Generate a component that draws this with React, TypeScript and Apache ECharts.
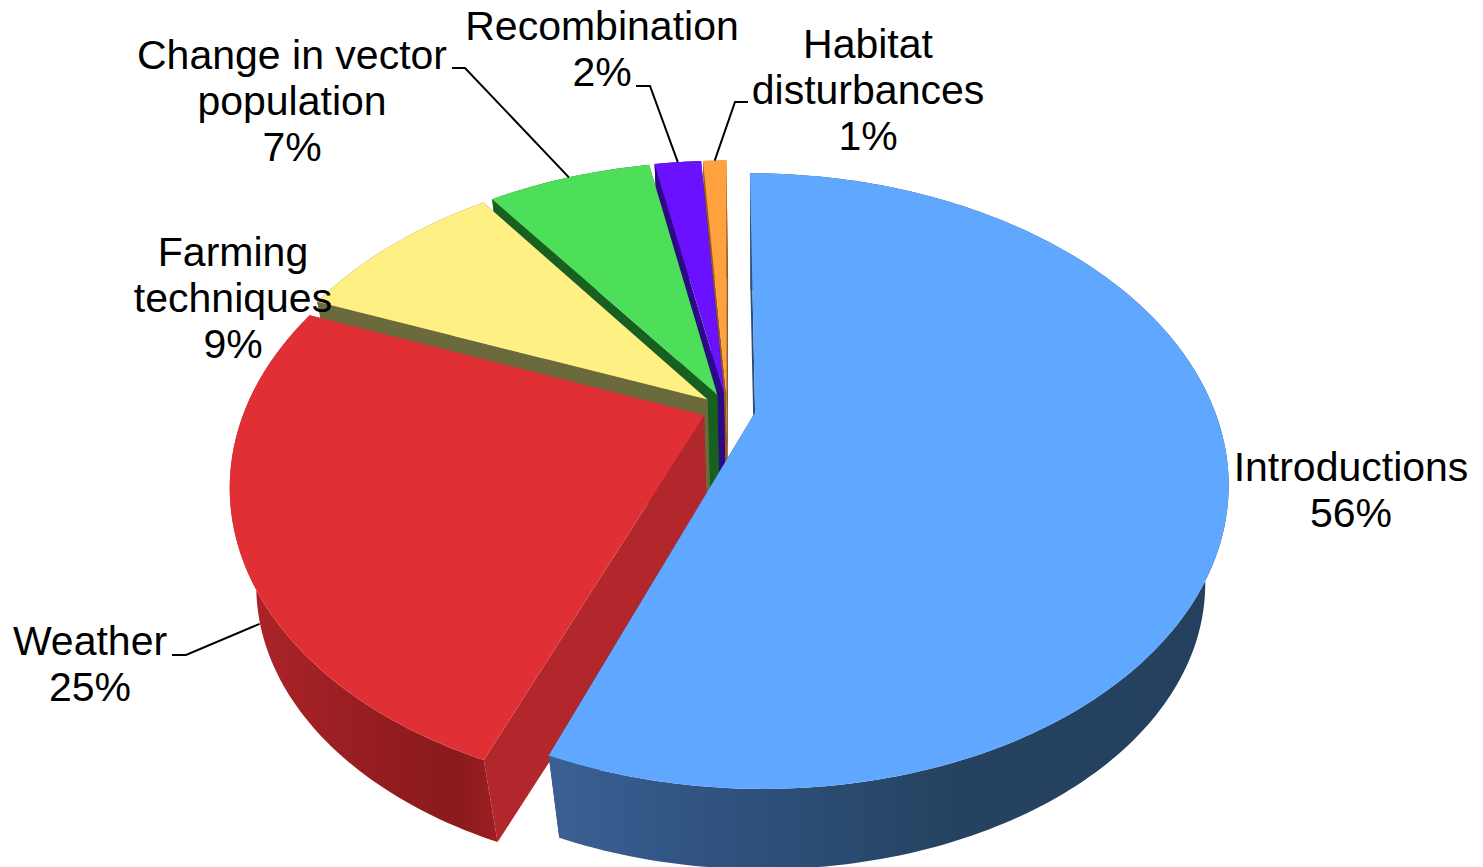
import React, { useEffect, useRef } from "react";
import * as echarts from "echarts";

// Shares of each driver, clockwise from twelve o'clock.
const categories = ["Introductions", "Weather", "Farming\ntechniques", "Change in vector\npopulation", "Recombination", "Habitat\ndisturbances"];
const shares = [56, 25, 9, 7, 2, 1];

const topColors = ["#60A8FF", "#E03036", "#FFF083", "#4EDF5A", "#6A12FF", "#FFA23E"];
const cutColors = ["#2A4B75", "#B2272B", "#6B6A3C", "#17601F", "#2C0A85", "#9A5A1E"];
const wallStops: [number, string][][] = [
  [[0, "#3B6093"], [0.25, "#2F5280"], [0.6, "#254360"], [1, "#24405E"]],
  [[0, "#B0252A"], [0.6, "#921C1F"], [0.85, "#8A1A1C"], [1, "#9C1F22"]],
  [[0, "#6B6A3C"], [1, "#6B6A3C"]],
  [[0, "#17601F"], [1, "#17601F"]],
  [[0, "#2C0A85"], [1, "#2C0A85"]],
  [[0, "#9A5A1E"], [1, "#9A5A1E"]],
];

// Label anchors: centre x and first line's centre y.
const labelX = [1351, 90, 233, 292, 602, 868];
const labelY = [467, 641, 252, 55, 26, 44];
// Elbow of each leader line; null where the label sits against its slice.
const elbows: (number[][] | null)[] = [
  null,
  [[172, 655], [186, 655]],
  null,
  [[452, 68], [465, 68]],
  [[636, 86], [650, 86]],
  [[748, 102], [735, 102]],
];
// Share of the wall's height at which a leader meets the slice.
const leaderDrop = [0, 0.85, 0, 0, 0, 0];
// How far each slice is pulled out of the disc, as a multiple of EXPLODE.
const explodeScale = [1.15, 1, 1, 1, 1, 1];

// Perspective of the pie's plane.
const CX = 727, CY = 409, RX = 459, RY = 291, TILT = 0.2225, EXPLODE = 0.054;
// Lower face of the disc: the upper face scaled toward a vanishing point.
const VX = 760, VY = 2150, DEPTH_X = 0.95, DEPTH_Y = 0.941;

const total = shares.reduce((a, b) => a + b, 0);
const startAngles = shares.map((_, i) => (shares.slice(0, i).reduce((a, b) => a + b, 0) / total) * 2 * Math.PI);
const endAngles = shares.map((s, i) => startAngles[i] + (s / total) * 2 * Math.PI);

const offset = (i: number) => {
  const mid = (startAngles[i] + endAngles[i]) / 2;
  const e = EXPLODE * explodeScale[i];
  return [e * Math.sin(mid), -e * Math.cos(mid)];
};
const project = (u: number, v: number) => {
  const w = 1 - TILT * v;
  return [CX + (RX * u) / w, CY + (RY * v) / w];
};
const lower = (p: number[]) => [VX + (p[0] - VX) * DEPTH_X, VY + (p[1] - VY) * DEPTH_Y];
const apex = (i: number) => {
  const [a, b] = offset(i);
  return project(a, b);
};
const rim = (i: number, angle: number) => {
  const [a, b] = offset(i);
  return project(a + Math.sin(angle), b - Math.cos(angle));
};
const rimArc = (i: number) => {
  const n = Math.max(2, Math.ceil(((endAngles[i] - startAngles[i]) * 180) / Math.PI));
  const pts: number[][] = [];
  for (let k = 0; k <= n; k++) pts.push(rim(i, startAngles[i] + ((endAngles[i] - startAngles[i]) * k) / n));
  return pts;
};

const renderSlice = (_params: any, api: any) => {
  const i = api.value(0);
  const arc = rimArc(i);
  const c = apex(i);
  const first = arc[0];
  const last = arc[arc.length - 1];
  const cut = (p: number[]) => ({
    type: "polygon",
    shape: { points: [c, p, lower(p), lower(c)] },
    style: { fill: cutColors[i] },
  });
  return {
    type: "group",
    children: [
      cut(first),
      cut(last),
      {
        type: "polygon",
        shape: { points: [...arc, ...arc.map(lower).reverse()] },
        style: {
          fill: new echarts.graphic.LinearGradient(0, 0, 1, 0, wallStops[i].map(([offset, color]) => ({ offset, color }))),
        },
      },
      {
        type: "polygon",
        shape: { points: [c, ...arc] },
        style: { fill: topColors[i] },
      },
    ],
  };
};

const labelElements = categories.map((name, i) => ({
  type: "text",
  z: 20,
  x: labelX[i],
  y: labelY[i] - 23,
  style: {
    text: `${name}\n${shares[i]}%`,
    fontFamily: "Liberation Sans",
    fontSize: 41,
    lineHeight: 46,
    fill: "#000000",
    align: "center",
    verticalAlign: "top",
  },
}));

const leaderElements = elbows.flatMap((elbow, i) => {
  if (!elbow) return [];
  const onRim = rim(i, (startAngles[i] + endAngles[i]) / 2);
  const base = lower(onRim);
  const end = [
    onRim[0] + (base[0] - onRim[0]) * leaderDrop[i],
    onRim[1] + (base[1] - onRim[1]) * leaderDrop[i],
  ];
  return [{
    type: "polyline",
    z: 19,
    shape: { points: [...elbow, end] },
    style: { stroke: "#000000", lineWidth: 2, fill: "none" },
  }];
});

export default function App() {
  const ref = useRef<HTMLDivElement>(null);
  useEffect(() => {
    const chart = echarts.init(ref.current!, undefined, { renderer: "svg" });
    chart.setOption({
      animation: false,
      backgroundColor: "#ffffff",
      graphic: { z: 20, elements: [...leaderElements, ...labelElements] },
      series: [
        {
          type: "custom",
          coordinateSystem: "none",
          silent: true,
          z: 2,
          clip: false,
          renderItem: renderSlice,
          // Painted from the back of the disc to the front.
          encode: { value: 0 },
          data: shares.map((s, i) => [i, s]).reverse(),
        },
      ],
    });
    return () => chart.dispose();
  }, []);
  return <div ref={ref} style={{ position: "absolute", left: 0, top: 0, width: 1483, height: 867 }} />;
}
